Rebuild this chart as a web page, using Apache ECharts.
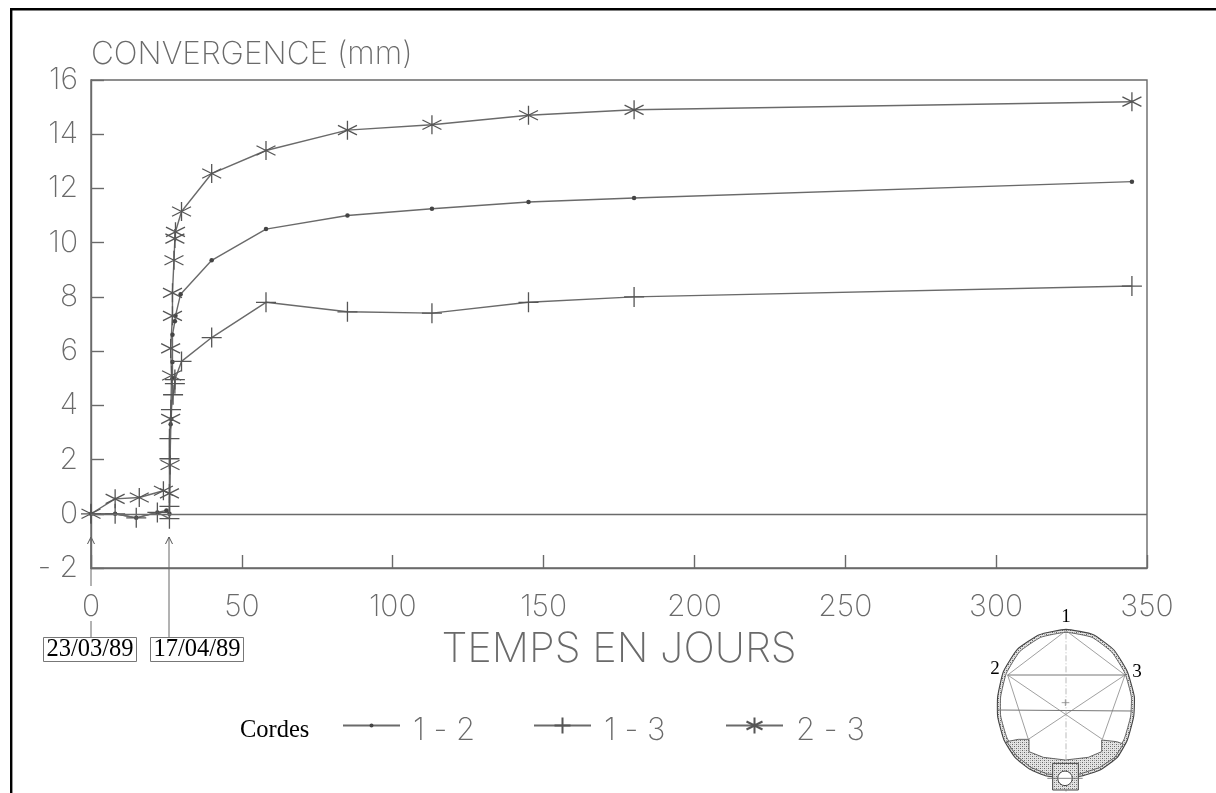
<!DOCTYPE html>
<html><head><meta charset="utf-8">
<style>html,body{margin:0;padding:0;background:#fff}#c{width:1216px;height:793px}</style>
<script src="https://cdn.jsdelivr.net/npm/echarts@6/dist/echarts.min.js"></script>
</head><body><div id="c"></div>
<script>
const chord12 = [[0,0],[8,0],[15,-0.15],[22,0.05],[25,0.12],[26,0],[26.4,3.3],[26.6,3.5],[27,5],[27,5.6],[27,6.6],[27.8,7.1],[28,7.3],[29.7,8.1],[40,9.35],[58,10.5],[85,11],[113,11.25],[145,11.5],[180,11.65],[345,12.25]];
const chord13 = [[0,0],[8,0],[15,-0.15],[22,0.05],[26,-0.18],[26,0.27],[26,2.03],[26,2.77],[26.5,3.84],[27.2,4.39],[27.8,4.8],[27.8,4.95],[30,5.62],[40,6.5],[58,7.8],[85,7.45],[113,7.4],[145,7.8],[180,8],[345,8.4]];
const chord23 = [[0,0],[8,0.55],[16,0.6],[24,0.85],[26,0.75],[26.2,1.8],[26.4,3.5],[26.7,5.1],[26.4,6.1],[27,7.3],[27,8.15],[27.5,9.35],[27.8,10.15],[28,10.4],[30,11.15],[40,12.55],[58,13.4],[85,14.15],[113,14.35],[145,14.7],[180,14.9],[345,15.2]];
const seriesNames = ['1 - 2','1 - 3','2 - 3'];
const eventDays = [0,26];
const eventLabels = ['23/03/89','17/04/89'];

const INK='#6a6a6a', THIN='Inter', SERIF='"Liberation Serif"';
const plusSym='path://M0 10H20M10 0V20';
const starSym='path://M10 0V20M1.3 5L18.7 15M1.3 15L18.7 5';
const chart=echarts.init(document.getElementById('c'),null,{renderer:'canvas'});
function mk(name,data,symbol,size,extra){
  return Object.assign({type:'line',name,data,symbol,symbolSize:size,showSymbol:true,clip:false,animation:false,
    lineStyle:{color:INK,width:1.4},
    itemStyle:symbol==='circle'?{color:'#444',borderWidth:0}:{color:'none',borderColor:'#555',borderWidth:1.3},
    emphasis:{disabled:true}},extra||{});
}
function leg(name,left,h){
  return {show:true,data:[name],left,top:715,padding:0,itemWidth:57,itemHeight:h,
    formatter:'{a|{name}}',
    textStyle:{rich:{a:{fontFamily:THIN,fontWeight:200,fontSize:31,color:INK,padding:[10,0,0,8]}}},
    selectedMode:false};
}
chart.setOption({
  animation:false,backgroundColor:'#fff',
  grid:{left:91,top:80,width:1056,height:488,show:true,borderColor:INK,borderWidth:1.4,backgroundColor:'transparent'},
  legend:[leg(seriesNames[0],342,5),leg(seriesNames[1],533,20),leg(seriesNames[2],725,20)],
  xAxis:{type:'value',min:0,max:350,interval:50,
    name:'TEMPS EN JOURS',nameLocation:'middle',nameGap:61,
    nameTextStyle:{fontFamily:THIN,fontWeight:200,fontSize:41.5,color:INK},
    axisLine:{onZero:false,lineStyle:{color:INK,width:1.4}},
    axisTick:{inside:true,length:13,lineStyle:{color:INK,width:1.4}},
    axisLabel:{fontFamily:THIN,fontWeight:200,fontSize:30,color:INK,margin:24,showMinLabel:true,showMaxLabel:true},
    splitLine:{show:false}},
  yAxis:{type:'value',min:-2,max:16,interval:2,
    name:'CONVERGENCE (mm)',nameLocation:'end',nameGap:9,
    nameTextStyle:{fontFamily:THIN,fontWeight:200,fontSize:31.5,color:INK,align:'left'},
    axisLine:{onZero:false,lineStyle:{color:INK,width:1.4}},
    axisTick:{inside:true,length:13,lineStyle:{color:INK,width:1.4}},
    axisLabel:{fontFamily:THIN,fontWeight:200,fontSize:30,color:INK,margin:13,padding:[5,0,0,0],showMinLabel:true,showMaxLabel:true,formatter:v=>String(v).replace('-','- ')},
    splitLine:{show:false}},
  series:[
    mk(seriesNames[0],chord12,'circle',4.5),
    mk(seriesNames[1],chord13,plusSym,20),
    mk(seriesNames[2],chord23,starSym,19,{markLine:{silent:true,symbol:'none',animation:false,label:{show:false},lineStyle:{color:INK,width:1.4,type:'solid'},data:[{yAxis:0}]}})
  ]
});

// ---- annotations + decorative tunnel section ----
const ln=(x1,y1,x2,y2,c,w,dash)=>({type:'line',silent:true,shape:{x1,y1,x2,y2},style:{stroke:c||'#666',lineWidth:w||1,lineDash:dash||null}});
const gfx=[
  {type:'rect',silent:true,shape:{x:10,y:8,width:1206,height:2.4},style:{fill:'#000'}},
  {type:'rect',silent:true,shape:{x:10,y:8,width:2.4,height:785},style:{fill:'#000'}},
  {type:'text',silent:true,x:240,y:718,style:{text:'Cordes',font:'24.5px '+SERIF,fill:'#000'}}
];
const boxLeft=[44,151];
eventDays.forEach((d,i)=>{
  const x=Math.round(chart.convertToPixel({xAxisIndex:0},d));
  if(i===0){gfx.push(ln(x,537,x,586),ln(x,621,x,637));}else{gfx.push(ln(x,537,x,637));}
  gfx.push({type:'polyline',silent:true,shape:{points:[[x-3.5,544],[x,537],[x+3.5,544]]},style:{stroke:'#555',fill:null,lineWidth:1}});
  gfx.push({type:'rect',silent:true,shape:{x:boxLeft[i]-0.5,y:637.5,width:93,height:24},style:{fill:'#fff',stroke:'#777',lineWidth:1}});
  gfx.push({type:'text',silent:true,x:boxLeft[i]+46,y:650,style:{text:eventLabels[i],font:'24.5px '+SERIF,fill:'#000',align:'center',verticalAlign:'middle'}});
});
// tunnel, coordinates given in a local sketch frame
const P=(x,y)=>[960+x/3,600+y/3];
const pts=a=>a.map(p=>P(p[0],p[1]));
const cv=document.createElement('canvas');cv.width=cv.height=4;
const g=cv.getContext('2d');g.fillStyle='#e4e4e4';g.fillRect(0,0,4,4);g.fillStyle='#666';g.fillRect(0,0,1,1);g.fillRect(2,2,1,1);g.fillStyle='#aaa';g.fillRect(2,0,1,1);g.fillRect(0,2,1,1);
const hatch={image:cv,repeat:'repeat'};
const outer=[[318,88],[400,104],[462,150],[502,215],[523,290],[521,350],[502,420],[472,472],[420,510],[365,528],[318,532],[260,528],[210,508],[165,472],[132,420],[113,350],[113,290],[130,215],[172,148],[238,104]];
const inner=[[318,97],[396,112],[456,157],[495,220],[514,290],[512,348],[493,416],[464,466],[415,500],[362,518],[318,522],[262,518],[214,498],[172,464],[141,414],[122,348],[122,290],[139,220],[179,155],[242,112]];
const floor=[[140,425],[175,418],[207,418],[207,455],[250,472],[316,480],[385,472],[425,455],[425,420],[470,425],[490,432],[465,472],[418,503],[360,522],[318,526],[262,522],[212,502],[170,468]];
const poly=(a,fill,stroke,w,smooth)=>({type:'polygon',silent:true,shape:{points:pts(a),smooth:smooth||0},style:{fill,stroke,lineWidth:w||1}});
gfx.push(poly(outer,hatch,'#444',1.1,0.15));
gfx.push(poly(inner,'#fff','#555',0.9,0.15));
gfx.push(poly(floor,hatch,'#555',0.9,0));
const seg=(a,b,c,w,d)=>{const p=P(a[0],a[1]),q=P(b[0],b[1]);return ln(p[0],p[1],q[0],q[1],c||'#888',w||0.8,d);};
const T=[318,92],L=[143,225],R=[495,225],BL=[205,418],BR=[427,418];
gfx.push(seg(T,L),seg(T,R),seg(L,R,'#777',1),seg(L,BR),seg(R,BL),seg(L,BL),seg(R,BR));
gfx.push(seg([113,330],[518,333],'#777',1),seg([318,100],[318,575],'#aaa',0.8,[6,2,1,2]),seg([305,308],[328,308],'#888'),seg([316,298],[316,318],'#888'));
gfx.push(poly([[278,490],[355,490],[355,570],[278,570]],hatch,'#444',1,0));
const cc=P(315,535);
gfx.push({type:'circle',silent:true,shape:{cx:cc[0],cy:cc[1],r:7.3},style:{fill:'#fff',stroke:'#444',lineWidth:1}});
gfx.push(seg([262,535],[368,535],'#666'));
[['1',1066,617],['2',995,669],['3',1137,672]].forEach(t=>gfx.push({type:'text',silent:true,x:t[1],y:t[2],style:{text:t[0],font:'19px '+SERIF,fill:'#000',align:'center',verticalAlign:'middle'}}));
chart.setOption({graphic:{elements:gfx}});
</script></body></html>
